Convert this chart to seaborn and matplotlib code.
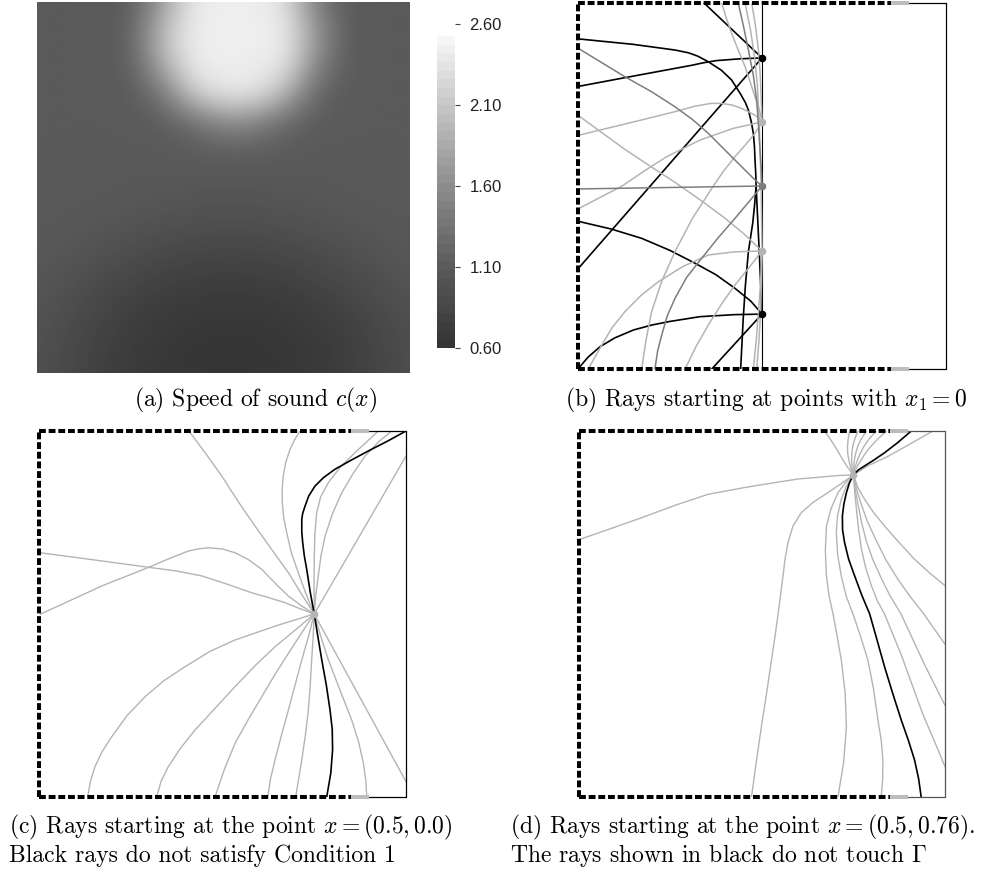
import numpy as np
import pandas as pd
import matplotlib
matplotlib.use("Agg")
import matplotlib.pyplot as plt
import seaborn as sns
from matplotlib.colors import LinearSegmentedColormap, ListedColormap

sns.set_theme(style="white")
plt.rcParams['font.family'] = ['DejaVu Sans']
plt.rcParams['mathtext.fontset'] = 'cm'

# ---------------- data ----------------
# speed of sound c(x) read on a 13x13 grid (rows from top to bottom, cols left to right)
speed_grid = [
    [1.08, 1.08, 1.08, 1.09, 1.68, 2.42, 2.45, 2.45, 2.35, 1.41, 1.08, 1.08, 1.08],
    [1.08, 1.08, 1.08, 1.14, 2.02, 2.45, 2.45, 2.45, 2.45, 1.70, 1.08, 1.08, 1.08],
    [1.08, 1.08, 1.08, 1.11, 1.88, 2.45, 2.45, 2.45, 2.41, 1.55, 1.08, 1.08, 1.08],
    [1.08, 1.08, 1.08, 1.08, 1.34, 2.14, 2.41, 2.39, 1.96, 1.18, 1.08, 1.08, 1.08],
    [1.08, 1.08, 1.08, 1.08, 1.08, 1.21, 1.49, 1.44, 1.16, 1.08, 1.08, 1.08, 1.08],
    [1.08, 1.08, 1.08, 1.08, 1.08, 1.08, 1.08, 1.08, 1.08, 1.08, 1.08, 1.08, 1.08],
    [1.08, 1.08, 1.07, 1.06, 1.05, 1.04, 1.04, 1.04, 1.045, 1.055, 1.07, 1.08, 1.08],
    [1.075, 1.06, 1.045, 1.03, 0.99, 0.97, 0.955, 0.96, 0.98, 1.01, 1.035, 1.055, 1.07],
    [1.055, 1.035, 0.985, 0.925, 0.877, 0.843, 0.827, 0.833, 0.86, 0.90, 0.955, 1.015, 1.045],
    [1.035, 0.97, 0.895, 0.822, 0.763, 0.73, 0.72, 0.725, 0.745, 0.817, 0.86, 0.935, 1.015],
    [1.0, 0.91, 0.82, 0.74, 0.685, 0.655, 0.645, 0.647, 0.665, 0.71, 0.775, 0.87, 0.955],
    [0.96, 0.87, 0.77, 0.69, 0.645, 0.615, 0.608, 0.61, 0.632, 0.66, 0.73, 0.82, 0.915],
    [0.95, 0.855, 0.75, 0.675, 0.635, 0.608, 0.60, 0.605, 0.62, 0.652, 0.715, 0.80, 0.93],
]
cbar_ticks = [0.60, 1.10, 1.60, 2.10, 2.60]
cbar_top = 2.52

# boundary pieces (domain [-1,1]^2): Gamma (dashed), transition (grey), rest (thin)
gamma_end = 0.70
grey_end = 0.80

# ---- panel (b): start points on x1 = 0 ----
b_pts_black = [(0.0, 0.70), (0.0, -0.70)]
b_pts_medium = [(0.0, 0.0)]
b_pts_light = [(0.0, 0.35), (0.0, -0.355)]

b_rays_black = [
    [(0.0, 0.70), (-0.315, 1.0)],
    [(0.0, 0.70), (-0.12, 0.695), (-0.25, 0.685), (-0.32, 0.673), (-0.38, 0.66), (-0.745, 0.592), (-0.989, 0.546)],
    [(0.0, 0.70), (-0.99, -0.441)],
    [(-0.989, 0.803), (-0.70, 0.774), (-0.473, 0.743), (-0.40, 0.728), (-0.35, 0.71), (-0.292, 0.679),
     (-0.22, 0.632), (-0.165, 0.579), (-0.115, 0.50), (-0.09, 0.455), (-0.074, 0.415), (-0.058, 0.35),
     (-0.047, 0.288), (-0.041, 0.215), (-0.038, 0.142), (-0.034, 0.07), (-0.032, 0.0), (-0.04, -0.1),
     (-0.05, -0.2), (-0.074, -0.359), (-0.09, -0.54), (-0.102, -0.723), (-0.116, -1.0)],
    [(0.0, -0.70), (-0.06, -0.63), (-0.147, -0.559), (-0.25, -0.485), (-0.364, -0.422), (-0.5, -0.352),
     (-0.654, -0.286), (-0.82, -0.235), (-0.99, -0.195)],
    [(0.0, -0.70), (-0.15, -0.703), (-0.337, -0.714), (-0.5, -0.74), (-0.6, -0.76), (-0.699, -0.787),
     (-0.8, -0.83), (-0.88, -0.878), (-0.945, -0.935), (-0.997, -0.996)],
    [(0.0, -0.70), (-0.273, -1.0)],
    [(0.0, -0.70), (-0.015, -0.36), (-0.032, 0.0)],
]
b_rays_medium = [
    [(0.0, 0.0), (-0.99, -0.016)],
    [(0.0, 0.0), (-0.038, 0.033), (-0.147, 0.142), (-0.292, 0.288), (-0.38, 0.365), (-0.473, 0.433),
     (-0.6, 0.515), (-0.745, 0.597), (-0.99, 0.747)],
    [(0.0, 0.0), (-0.07, -0.085), (-0.147, -0.177), (-0.24, -0.285), (-0.328, -0.395), (-0.41, -0.5),
     (-0.473, -0.614), (-0.515, -0.71), (-0.545, -0.814), (-0.567, -0.9), (-0.582, -1.0)],
    [(0.0, 0.0), (-0.004, 0.1), (-0.011, 0.197), (-0.019, 0.33), (-0.029, 0.47), (-0.048, 0.61),
     (-0.074, 0.743), (-0.1, 0.87), (-0.129, 1.0)],
]
b_rays_light = [
    [(0.0, 0.35), (-0.035, 0.385), (-0.074, 0.406), (-0.12, 0.428), (-0.165, 0.443), (-0.22, 0.451),
     (-0.273, 0.452), (-0.37, 0.435), (-0.473, 0.406), (-0.654, 0.361), (-0.99, 0.279)],
    [(0.0, 0.35), (-0.156, 0.315), (-0.337, 0.251), (-0.518, 0.16), (-0.64, 0.082), (-0.76, 0.0), (-0.99, -0.12)],
    [(0.0, 0.35), (-0.038, 0.288), (-0.09, 0.225), (-0.147, 0.16), (-0.21, 0.08), (-0.273, -0.013),
     (-0.38, -0.18), (-0.473, -0.359), (-0.545, -0.52), (-0.6, -0.687), (-0.63, -0.84), (-0.654, -1.0)],
    [(0.0, 0.35), (-0.015, 0.42), (-0.038, 0.488), (-0.065, 0.57), (-0.092, 0.652), (-0.13, 0.745),
     (-0.165, 0.834), (-0.195, 0.92), (-0.219, 1.0)],
    [(0.0, 0.35), (-0.005, 0.5), (-0.011, 0.63), (-0.02, 0.75), (-0.036, 0.88), (-0.056, 1.0)],
    [(0.0, -0.355), (-0.1, -0.26), (-0.2, -0.177), (-0.33, -0.08), (-0.473, 0.02), (-0.61, 0.11),
     (-0.745, 0.20), (-0.99, 0.379)],
    [(0.0, -0.355), (-0.15, -0.36), (-0.292, -0.377), (-0.43, -0.44), (-0.563, -0.523), (-0.66, -0.6),
     (-0.745, -0.687), (-0.815, -0.775), (-0.871, -0.869), (-0.944, -1.0)],
    [(0.0, -0.355), (-0.07, -0.445), (-0.147, -0.541), (-0.22, -0.645), (-0.292, -0.76), (-0.36, -0.88),
     (-0.418, -1.0)],
    [(0.0, -0.355), (-0.005, 0.0), (-0.015, 0.35), (-0.025, 0.55), (-0.04, 0.7), (-0.062, 0.85), (-0.092, 1.0)],
    [(0.0, -0.355), (-0.008, -0.53), (-0.02, -0.7), (-0.032, -0.85), (-0.047, -1.0)],
    [(0.0, -0.355), (-0.003, -0.53), (-0.008, -0.7), (-0.017, -0.85), (-0.029, -1.0)],
]

# ---- panel (c): rays from x = (0.5, 0.0) ----
c_source = [(0.5, 0.0)]
c_rays_grey = [
    [(0.5, 0.0), (0.43, 0.11), (0.359, 0.226), (0.27, 0.35), (0.177, 0.481), (0.085, 0.615),
     (-0.004, 0.754), (-0.09, 0.875), (-0.183, 1.0)],
    [(0.5, 0.0), (0.455, 0.11), (0.413, 0.226), (0.375, 0.335), (0.35, 0.444), (0.333, 0.53),
     (0.326, 0.608), (0.325, 0.68), (0.331, 0.754), (0.345, 0.83), (0.368, 0.9), (0.392, 0.95), (0.422, 1.0)],
    [(0.5, 0.0), (0.499, 0.15), (0.5, 0.299), (0.503, 0.43), (0.513, 0.554), (0.535, 0.64), (0.577, 0.718),
     (0.64, 0.8), (0.722, 0.882), (0.785, 0.94), (0.849, 1.0)],
    [(0.5, 0.0), (0.508, 0.1), (0.522, 0.208), (0.537, 0.32), (0.559, 0.426), (0.6, 0.55), (0.65, 0.663),
     (0.71, 0.765), (0.777, 0.863), (0.85, 0.94), (0.922, 1.0)],
    [(0.5, 0.0), (1.0, 0.863)],
    [(0.5, 0.0), (0.43, 0.045), (0.359, 0.098), (0.285, 0.17), (0.214, 0.244), (0.14, 0.298), (0.068, 0.335),
     (0.0, 0.355), (-0.077, 0.362), (-0.13, 0.356), (-0.186, 0.344), (-0.29, 0.303), (-0.386, 0.262),
     (-0.52, 0.208), (-0.658, 0.153), (-0.995, -0.002)],
    [(0.5, 0.0), (0.42, 0.03), (0.341, 0.062), (0.25, 0.09), (0.159, 0.116), (0.02, 0.165), (-0.113, 0.208),
     (-0.25, 0.235), (-0.386, 0.253), (-0.658, 0.29), (-0.995, 0.335)],
    [(0.5, 0.0), (0.3, -0.062), (0.068, -0.142), (-0.07, -0.205), (-0.204, -0.288), (-0.32, -0.365),
     (-0.422, -0.452), (-0.52, -0.555), (-0.604, -0.671), (-0.655, -0.75), (-0.695, -0.834),
     (-0.72, -0.915), (-0.735, -1.0)],
    [(0.5, 0.0), (0.4, -0.085), (0.286, -0.179), (0.18, -0.28), (0.068, -0.397), (-0.04, -0.515),
     (-0.15, -0.634), (-0.23, -0.735), (-0.295, -0.834), (-0.335, -0.915), (-0.359, -1.0)],
    [(0.5, 0.0), (0.43, -0.105), (0.359, -0.215), (0.285, -0.332), (0.214, -0.452), (0.14, -0.577),
     (0.068, -0.707), (0.01, -0.85), (-0.041, -1.0)],
    [(0.5, 0.0), (0.468, -0.125), (0.432, -0.251), (0.395, -0.39), (0.359, -0.525), (0.322, -0.66),
     (0.286, -0.798), (0.262, -0.9), (0.246, -1.0)],
    [(0.5, 0.0), (0.494, -0.125), (0.486, -0.251), (0.478, -0.39), (0.468, -0.525), (0.452, -0.66),
     (0.432, -0.798), (0.415, -0.9), (0.399, -1.0)],
    [(0.5, 0.0), (0.535, -0.12), (0.577, -0.251), (0.64, -0.415), (0.704, -0.579), (0.742, -0.7),
     (0.768, -0.816), (0.781, -0.91), (0.786, -1.0)],
    [(0.5, 0.0), (1.0, -0.916)],
]
c_rays_black = [
    [(1.0, 1.0), (0.9, 0.945), (0.795, 0.891), (0.7, 0.84), (0.613, 0.791), (0.55, 0.745), (0.504, 0.699),
     (0.47, 0.645), (0.45, 0.59), (0.437, 0.55), (0.432, 0.517), (0.432, 0.45), (0.437, 0.39),
     (0.446, 0.317), (0.459, 0.244), (0.478, 0.12), (0.5, 0.0), (0.52, -0.125), (0.541, -0.251),
     (0.566, -0.39), (0.586, -0.525), (0.598, -0.63), (0.60, -0.743), (0.59, -0.87), (0.568, -1.0)],
]

# ---- panel (d): rays from x = (0.5, 0.76) ----
d_source = [(0.5, 0.76)]
d_rays_grey = [
    [(0.5, 0.76), (0.42, 0.757), (0.343, 0.75), (0.2, 0.738), (0.071, 0.718), (-0.1, 0.69), (-0.293, 0.654),
     (-0.47, 0.595), (-0.656, 0.526), (-0.82, 0.468), (-0.992, 0.408)],
    [(0.5, 0.76), (0.47, 0.8), (0.443, 0.842), (0.415, 0.89), (0.389, 0.933), (0.343, 1.0)],
    [(0.5, 0.76), (0.485, 0.8), (0.475, 0.84), (0.469, 0.88), (0.468, 0.92), (0.472, 0.96), (0.48, 1.0)],
    [(0.5, 0.76), (0.493, 0.8), (0.49, 0.84), (0.492, 0.88), (0.497, 0.92), (0.509, 0.96), (0.525, 1.0)],
    [(0.5, 0.76), (0.502, 0.8), (0.505, 0.84), (0.513, 0.88), (0.525, 0.92), (0.545, 0.96), (0.571, 1.0)],
    [(0.5, 0.76), (0.508, 0.797), (0.52, 0.835), (0.536, 0.875), (0.557, 0.915), (0.587, 0.958), (0.625, 1.0)],
    [(0.5, 0.76), (0.515, 0.795), (0.535, 0.83), (0.56, 0.87), (0.59, 0.91), (0.632, 0.955), (0.68, 1.0)],
    [(0.5, 0.76), (0.58, 0.81), (0.69, 0.862), (0.82, 0.935), (0.934, 1.0)],
    [(0.5, 0.76), (0.43, 0.71), (0.361, 0.663), (0.28, 0.61), (0.216, 0.554), (0.17, 0.48), (0.143, 0.39),
     (0.127, 0.3), (0.116, 0.208), (0.102, 0.1), (0.089, 0.0), (0.072, -0.125), (0.053, -0.251),
     (0.027, -0.43), (-0.002, -0.616), (-0.03, -0.81), (-0.056, -1.0)],
    [(0.5, 0.76), (0.455, 0.715), (0.416, 0.663), (0.378, 0.575), (0.353, 0.481), (0.347, 0.345),
     (0.353, 0.208), (0.367, 0.1), (0.389, 0.0), (0.412, -0.125), (0.434, -0.251), (0.455, -0.43),
     (0.462, -0.616), (0.447, -0.81), (0.416, -1.0)],
    [(0.5, 0.76), (0.46, 0.695), (0.434, 0.627), (0.413, 0.535), (0.407, 0.444), (0.414, 0.325),
     (0.434, 0.208), (0.46, 0.1), (0.498, 0.0), (0.54, -0.125), (0.579, -0.251), (0.61, -0.41),
     (0.634, -0.579), (0.652, -0.69), (0.661, -0.798), (0.66, -0.9), (0.652, -1.0)],
    [(0.5, 0.76), (0.525, 0.69), (0.561, 0.627), (0.61, 0.555), (0.67, 0.481), (0.75, 0.39), (0.834, 0.299),
     (0.915, 0.225), (1.0, 0.155)],
    [(0.5, 0.76), (0.518, 0.68), (0.543, 0.6), (0.575, 0.51), (0.616, 0.42), (0.675, 0.3), (0.743, 0.19),
     (0.81, 0.095), (0.885, 0.0), (0.94, -0.08), (1.0, -0.165)],
    [(0.5, 0.76), (0.51, 0.68), (0.525, 0.6), (0.545, 0.5), (0.57, 0.4), (0.605, 0.3), (0.65, 0.2), (0.7, 0.1),
     (0.76, 0.0), (0.825, -0.14), (0.89, -0.28), (0.945, -0.39), (1.0, -0.50)],
    [(0.5, 0.76), (0.507, 0.67), (0.516, 0.58), (0.528, 0.465), (0.545, 0.35), (0.568, 0.25), (0.6, 0.15),
     (0.632, 0.07), (0.67, 0.0), (0.715, -0.11), (0.76, -0.22), (0.82, -0.385), (0.88, -0.55),
     (0.94, -0.69), (1.0, -0.834)],
]
d_rays_black = [
    [(0.816, 1.0), (0.74, 0.935), (0.67, 0.881), (0.61, 0.84), (0.561, 0.809), (0.527, 0.787), (0.5, 0.76),
     (0.478, 0.715), (0.462, 0.663), (0.448, 0.6), (0.44, 0.536), (0.441, 0.46), (0.452, 0.39),
     (0.474, 0.3), (0.507, 0.208), (0.545, 0.105), (0.589, 0.0), (0.63, -0.145), (0.67, -0.288),
     (0.715, -0.435), (0.761, -0.579), (0.8, -0.69), (0.834, -0.798), (0.856, -0.9), (0.87, -1.0)],
]

captions = {
    'a': ["(a) Speed of sound $c(x)$"],
    'b': ["(b) Rays starting at points with $x_1 = 0$"],
    'c': ["(c) Rays starting at the point $x = (0.5, 0.0)$", "Black rays do not satisfy Condition 1"],
    'd': ["(d) Rays starting at the point $x = (0.5, 0.76)$.", "The rays shown in black do not touch $\\Gamma$"],
}

# ---------------- styling ----------------
W, H = 997, 871
LIGHT = '#b4b4b4'
MEDIUM = '#7d7d7d'
GREY_SEG = '#bdbdbd'

grey_cmap = LinearSegmentedColormap.from_list(
    'speed', [(0.0, (0.21,) * 3), (0.26, (0.36,) * 3), (0.52, (0.555,) * 3),
              (0.78, (0.775,) * 3), (1.0, (0.965,) * 3)])


def px_axes(fig, x0, y0, x1, y1):
    return fig.add_axes([x0 / W, 1 - y1 / H, (x1 - x0) / W, (y1 - y0) / H])


def draw_rays(ax, rays, color, lw):
    rows = []
    for k, ray in enumerate(rays):
        for x, y in ray:
            rows.append((k, x, y))
    df = pd.DataFrame(rows, columns=['ray', 'x', 'y'])
    sns.lineplot(data=df, x='x', y='y', units='ray', estimator=None, sort=False,
                 color=color, lw=lw, ax=ax, legend=False,
                 solid_joinstyle='round', solid_capstyle='round')


def draw_points(ax, pts, color, size):
    df = pd.DataFrame(pts, columns=['x', 'y'])
    sns.scatterplot(data=df, x='x', y='y', color=color, s=size, ax=ax, linewidth=0,
                    zorder=5, legend=False)


def draw_box(ax, thin_color):
    dash = dict(color='black', lw=2.9, ls=(0, (1.7, 0.7)), clip_on=False,
                dash_capstyle='butt', zorder=6)
    ax.plot([-1, -1], [-1, 1], **dash)
    ax.plot([-1, gamma_end], [1, 1], **dash)
    ax.plot([-1, gamma_end], [-1, -1], **dash)
    for yy in (1, -1):
        ax.plot([gamma_end, grey_end], [yy, yy], color=GREY_SEG, lw=2.9,
                solid_capstyle='butt', clip_on=False, zorder=6)
        ax.plot([grey_end, 1], [yy, yy], color=thin_color, lw=0.9, clip_on=False, zorder=6)
    ax.plot([1, 1], [-1, 1], color=thin_color, lw=0.9, clip_on=False, zorder=6)


def finish(ax):
    ax.set_xlim(-1, 1)
    ax.set_ylim(-1, 1)
    ax.set_axis_off()


fig = plt.figure(figsize=(W / 100, H / 100), dpi=100)

# ---- (a) heat map ----
ax_a = px_axes(fig, 37, 2, 409, 373)
n = len(speed_grid)
half = 0.5 / (n - 1)
ax_a.imshow(np.array(speed_grid), cmap=grey_cmap, vmin=cbar_ticks[0], vmax=cbar_top,
            extent=[-half, 1 + half, 1 + half, -half], interpolation='bicubic', aspect='auto')
ax_a.set_xlim(0, 1)
ax_a.set_ylim(1, 0)
ax_a.set_axis_off()

# colour bar
cax = px_axes(fig, 437, 24, 455, 348)
steps = ListedColormap(grey_cmap(np.linspace(0, 1, 36)))
cax.imshow(np.arange(36)[:, None], cmap=steps, origin='lower', aspect='auto',
           extent=[0, 1, cbar_ticks[0], cbar_top])
cax.set_xlim(0, 1)
cax.set_ylim(cbar_ticks[0], cbar_ticks[-1])
for s in cax.spines.values():
    s.set_visible(False)
cax.set_xticks([])
cax.yaxis.tick_right()
cax.set_yticks(cbar_ticks)
cax.set_yticklabels([f"{t:.2f}" for t in cbar_ticks], fontfamily='Liberation Sans', fontsize=12,
                    color='#222222')
cax.tick_params(axis='y', length=3.5, width=0.8, pad=7, color='#444444', direction='out', right=True, left=False)

# ---- (b) ----
ax_b = px_axes(fig, 578, 3, 946, 369)
ax_b.plot([0, 0], [-1, 0.99], color='black', lw=0.8, zorder=1)
draw_rays(ax_b, b_rays_black, 'black', 1.2)
draw_rays(ax_b, b_rays_light, LIGHT, 1.1)
draw_rays(ax_b, b_rays_medium, MEDIUM, 1.1)
draw_points(ax_b, b_pts_light, LIGHT, 30)
draw_points(ax_b, b_pts_medium, MEDIUM, 30)
draw_points(ax_b, b_pts_black, 'black', 30)
draw_box(ax_b, 'black')
finish(ax_b)

# ---- (c) ----
ax_c = px_axes(fig, 39, 431, 406, 797)
draw_rays(ax_c, c_rays_grey, LIGHT, 1.0)
draw_rays(ax_c, c_rays_black, 'black', 1.2)
draw_points(ax_c, c_source, LIGHT, 30)
draw_box(ax_c, 'black')
finish(ax_c)

# ---- (d) ----
ax_d = px_axes(fig, 578.5, 431, 945, 797)
draw_rays(ax_d, d_rays_grey, LIGHT, 1.0)
draw_rays(ax_d, d_rays_black, 'black', 1.2)
draw_points(ax_d, d_source, LIGHT, 30)
draw_box(ax_d, '#555555')
finish(ax_d)

# ---- captions ----
cap_kw = dict(fontfamily='cmr10', fontsize=17, color='black', va='baseline')
fig.text(256 / W, 1 - 406 / H, captions['a'][0], ha='center', **cap_kw)
fig.text(766 / W, 1 - 406 / H, captions['b'][0], ha='center', **cap_kw)
fig.text(9 / W, 1 - 833 / H, captions['c'][0], ha='left', **cap_kw)
fig.text(9 / W, 1 - 862 / H, captions['c'][1], ha='left', **cap_kw)
fig.text(510 / W, 1 - 833 / H, captions['d'][0], ha='left', **cap_kw)
fig.text(510 / W, 1 - 862 / H, captions['d'][1], ha='left', **cap_kw)

fig.savefig('out.png', dpi=100)
